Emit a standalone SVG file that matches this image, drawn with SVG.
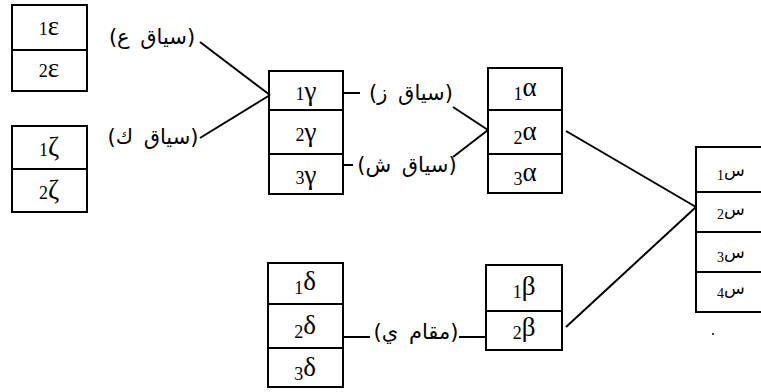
<svg xmlns="http://www.w3.org/2000/svg" width="761" height="392" viewBox="0 0 761 392">
<style>
.box rect, .box line { fill: none; stroke: #000; stroke-width: 2; }
.g { font-family: "Liberation Serif", "DejaVu Serif", serif; font-size: 27px; text-anchor: middle; fill: #000; }
.d { font-size: 18px; }
.s { font-family: "DejaVu Sans", "Noto Sans", sans-serif; font-size: 17px; fill: #000; }
.sd { font-family: "Liberation Serif", serif; font-size: 14px; text-anchor: end; fill: #000; }
.lab { font-family: "DejaVu Sans", "Noto Sans", sans-serif; font-size: 21px; word-spacing: 4px; direction: rtl; unicode-bidi: embed; text-anchor: middle; fill: #000; }
.conn line { stroke: #000; stroke-width: 2; }
</style>
<rect width="761" height="392" fill="#fff"/>

<g id="epsilon" class="box">
<rect x="12" y="5" width="75" height="86"/>
<line x1="12" y1="50" x2="87" y2="50"/>
<text class="g" x="49" y="35"><tspan class="d">1</tspan>ε</text>
<text class="g" x="49" y="77"><tspan class="d">2</tspan>ε</text>
</g>

<g id="zeta" class="box">
<rect x="12" y="126" width="75" height="86"/>
<line x1="12" y1="169" x2="87" y2="169"/>
<text class="g" x="49" y="156"><tspan class="d">1</tspan>ζ</text>
<text class="g" x="49" y="199"><tspan class="d">2</tspan>ζ</text>
</g>

<g id="gamma" class="box">
<rect x="269" y="71" width="74" height="123"/>
<line x1="269" y1="110" x2="343" y2="110"/>
<line x1="269" y1="154" x2="343" y2="154"/>
<text class="g" x="306" y="100"><tspan class="d">1</tspan>γ</text>
<text class="g" x="306" y="141"><tspan class="d">2</tspan>γ</text>
<text class="g" x="306" y="184"><tspan class="d">3</tspan>γ</text>
</g>

<g id="alpha" class="box">
<rect x="488" y="68" width="74" height="125"/>
<line x1="488" y1="110" x2="562" y2="110"/>
<line x1="488" y1="154" x2="562" y2="154"/>
<text class="g" x="525" y="96"><tspan class="d" dy="4">1</tspan><tspan dy="-4">α</tspan></text>
<text class="g" x="525" y="140"><tspan class="d" dy="4">2</tspan><tspan dy="-4">α</tspan></text>
<text class="g" x="525" y="181"><tspan class="d" dy="4">3</tspan><tspan dy="-4">α</tspan></text>
</g>

<g id="beta" class="box">
<rect x="486" y="265" width="76" height="85"/>
<line x1="486" y1="311" x2="562" y2="311"/>
<text class="g" x="524" y="295"><tspan class="d" dy="3">1</tspan><tspan dy="-3">β</tspan></text>
<text class="g" x="524" y="336"><tspan class="d" dy="3">2</tspan><tspan dy="-3">β</tspan></text>
</g>

<g id="delta" class="box">
<rect x="268" y="263" width="75" height="124"/>
<line x1="268" y1="304" x2="343" y2="304"/>
<line x1="268" y1="348" x2="343" y2="348"/>
<text class="g" x="305" y="290"><tspan class="d" dy="4">1</tspan><tspan dy="-4">δ</tspan></text>
<text class="g" x="305" y="334"><tspan class="d" dy="4">2</tspan><tspan dy="-4">δ</tspan></text>
<text class="g" x="305" y="376"><tspan class="d" dy="4">3</tspan><tspan dy="-4">δ</tspan></text>
</g>

<g id="sin" class="box">
<rect x="696" y="147" width="80" height="165"/>
<line x1="696" y1="192" x2="770" y2="192"/>
<line x1="696" y1="232" x2="770" y2="232"/>
<line x1="696" y1="272" x2="770" y2="272"/>
<text class="sd" x="724" y="180">1</text><text class="s" x="724" y="176">س</text>
<text class="sd" x="724" y="219">2</text><text class="s" x="724" y="215">س</text>
<text class="sd" x="724" y="262">3</text><text class="s" x="724" y="258">س</text>
<text class="sd" x="724" y="298">4</text><text class="s" x="724" y="294">س</text>
</g>

<g id="labels">
<text class="lab" x="152" y="44">(سياق ع)</text>
<text class="lab" x="153" y="144">(سياق ك)</text>
<text class="lab" x="411" y="100">(سياق ز)</text>
<text class="lab" x="407" y="172">(سياق ش)</text>
<text class="lab" x="416" y="339">(مقام ي)</text>
</g>

<g id="connectors" class="conn">
<line x1="200" y1="42" x2="270" y2="95"/>
<line x1="200" y1="138" x2="270" y2="95"/>
<line x1="343" y1="93" x2="360" y2="93"/>
<line x1="343" y1="165" x2="353" y2="165"/>
<line x1="453" y1="107" x2="488" y2="130"/>
<line x1="453" y1="157" x2="488" y2="130"/>
<line x1="566" y1="131" x2="696" y2="207"/>
<line x1="566" y1="327" x2="696" y2="207"/>
<line x1="343" y1="337" x2="370" y2="337"/>
<line x1="459" y1="337" x2="486" y2="337"/>
</g>
<circle cx="713" cy="334" r="1" fill="#000"/>
</svg>
